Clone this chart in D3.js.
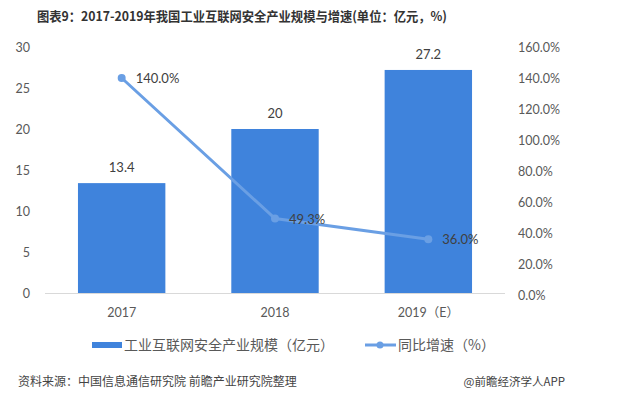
<!DOCTYPE html>
<html>
<head>
<meta charset="utf-8">
<script src="https://cdn.jsdelivr.net/npm/d3@7"></script>
<style>
  body { margin: 0; background: #fff; }
  text { font-family: Lato, "Noto Sans CJK SC", sans-serif; }
  .cjk { font-family: "Noto Sans CJK SC", sans-serif; }
</style>
</head>
<body>
<div id="chart-container"></div>
<script>
const years = ["2017", "2018", "2019（E）"]
const scale = [13.4, 20, 27.2]
const growth = [140.0, 49.3, 36.0]
const leftTicks = [0, 5, 10, 15, 20, 25, 30]
const rightTicks = [0, 20, 40, 60, 80, 100, 120, 140, 160]

const barColor = "#3f83dc"
const lineColor = "#6a9fe4"
const grey = "#595959"

const width = 622, height = 399
const margin = {top: 47, bottom: 294, left: 45, right: 505}

const svg = d3.select("#chart-container")
    .append("svg")
        .attr("width", width)
        .attr("height", height)

// title
svg.append("text")
    .attr("class", "cjk")
    .attr("x", 37)
    .attr("y", 21)
    .attr("font-size", 13)
    .attr("font-weight", "bold")
    .attr("fill", "#333")
    .attr("textLength", 410)
    .attr("lengthAdjust", "spacingAndGlyphs")
    .text("图表9：2017-2019年我国工业互联网安全产业规模与增速(单位：亿元，%)")

const x = d3.scaleBand()
    .domain(years)
    .range([margin.left, margin.right])
    .paddingInner(0.43)
    .paddingOuter(0.215)

const y = d3.scaleLinear()
    .domain([0, 30])
    .range([margin.bottom - 1, margin.top])

const y2 = d3.scaleLinear()
    .domain([0, 160])
    .range([margin.bottom + 1, margin.top])

// left axis
const leftAxis = svg.append("g")
    .attr("transform", `translate(${margin.left - 15}, 0)`)
    .call(d3.axisLeft(y).tickValues(leftTicks).tickSize(0))
leftAxis.select(".domain").remove()
leftAxis.selectAll("text")
    .attr("x", 0)
    .attr("fill", grey)
    .attr("font-size", 12.5)

// right axis
const rightAxis = svg.append("g")
    .attr("transform", `translate(518, 0)`)
    .call(d3.axisRight(y2).tickValues(rightTicks).tickSize(0).tickFormat(d => d.toFixed(1) + "%"))
rightAxis.select(".domain").remove()
rightAxis.selectAll("text")
    .attr("x", 0)
    .attr("fill", grey)
    .attr("font-size", 12.5)

// bars
svg.selectAll(".bar")
    .data(scale)
    .enter().append("rect")
    .attr("class", "bar")
    .attr("x", (d, i) => x(years[i]))
    .attr("y", d => y(d))
    .attr("width", x.bandwidth())
    .attr("height", d => y(0) - y(d))
    .attr("fill", barColor)

// baseline
svg.append("line")
    .attr("x1", margin.left)
    .attr("x2", margin.right)
    .attr("y1", y(0) + 0.5)
    .attr("y2", y(0) + 0.5)
    .attr("stroke", "#d9d9d9")

// bar labels
svg.selectAll(".barLabel")
    .data(scale)
    .enter().append("text")
    .attr("x", (d, i) => x(years[i]) + x.bandwidth() / 2)
    .attr("y", d => y(d) - 11)
    .attr("text-anchor", "middle")
    .attr("fill", "#404040")
    .attr("font-size", 13)
    .text(d => d)

// x labels
svg.selectAll(".xLabel")
    .data(years)
    .enter().append("text")
    .attr("x", d => x(d) + x.bandwidth() / 2)
    .attr("y", 317)
    .attr("text-anchor", "middle")
    .attr("fill", grey)
    .attr("font-size", 12.5)
    .text(d => d)

// growth line
const cx = (d, i) => x(years[i]) + x.bandwidth() / 2
const line = d3.line()
    .x(cx)
    .y(d => y2(d))

svg.append("path")
    .datum(growth)
    .attr("fill", "none")
    .attr("stroke", lineColor)
    .attr("stroke-width", 3)
    .attr("d", line)

svg.selectAll(".dot")
    .data(growth)
    .enter().append("circle")
    .attr("cx", cx)
    .attr("cy", d => y2(d))
    .attr("r", 4)
    .attr("fill", lineColor)

svg.selectAll(".lineLabel")
    .data(growth)
    .enter().append("text")
    .attr("x", (d, i) => cx(d, i) + 14)
    .attr("y", d => y2(d) + 5)
    .attr("fill", "#404040")
    .attr("font-size", 13)
    .text(d => d.toFixed(1) + "%")

// legend
svg.append("rect")
    .attr("x", 92).attr("y", 342)
    .attr("width", 30).attr("height", 6)
    .attr("fill", barColor)
svg.append("text")
    .attr("class", "cjk")
    .attr("x", 124).attr("y", 350)
    .attr("font-size", 14)
    .attr("fill", grey)
    .text("工业互联网安全产业规模（亿元）")

svg.append("line")
    .attr("x1", 365).attr("x2", 396)
    .attr("y1", 345).attr("y2", 345)
    .attr("stroke", lineColor)
    .attr("stroke-width", 3)
svg.append("circle")
    .attr("cx", 380).attr("cy", 345).attr("r", 3.5)
    .attr("fill", lineColor)
svg.append("text")
    .attr("class", "cjk")
    .attr("x", 398).attr("y", 350)
    .attr("font-size", 14)
    .attr("fill", grey)
    .text("同比增速（%）")

// footer
svg.append("text")
    .attr("class", "cjk")
    .attr("x", 18).attr("y", 386)
    .attr("font-size", 12)
    .attr("fill", "#444")
    .text("资料来源：中国信息通信研究院 前瞻产业研究院整理")
svg.append("text")
    .attr("class", "cjk")
    .attr("x", 565).attr("y", 386)
    .attr("text-anchor", "end")
    .attr("font-size", 11.5)
    .attr("fill", "#444")
    .text("@前瞻经济学人APP")
</script>
</body>
</html>
